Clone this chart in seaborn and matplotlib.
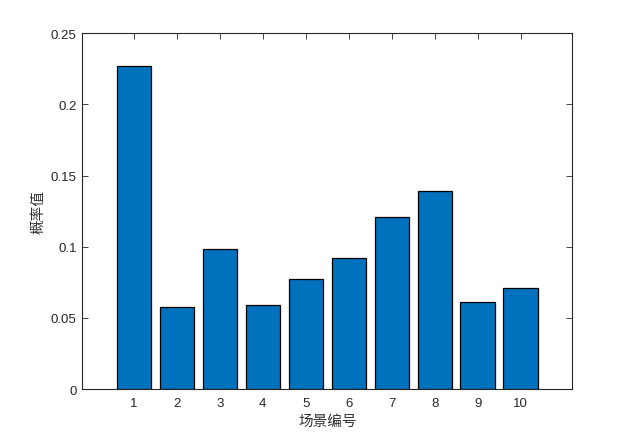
import matplotlib
matplotlib.use("Agg")
import matplotlib.pyplot as plt
import seaborn as sns
import pandas as pd

scenes = [1, 2, 3, 4, 5, 6, 7, 8, 9, 10]
probs = [0.227, 0.0574, 0.0982, 0.0588, 0.0773, 0.0919, 0.1207, 0.1390, 0.0609, 0.0708]
yticks = [0, 0.05, 0.1, 0.15, 0.2, 0.25]
ytick_labels = ["0", "0.05", "0.1", "0.15", "0.2", "0.25"]

sns.set_style("white")
plt.rcParams['font.family'] = ['Liberation Sans', 'Noto Sans CJK SC', 'DejaVu Sans']

df = pd.DataFrame({"scene": scenes, "prob": probs})

fig = plt.figure(figsize=(6.33, 4.39), dpi=100)
ax = fig.add_axes([0.13, 0.1116, 0.774, 0.8104])
sns.barplot(data=df, x="scene", y="prob", native_scale=True, width=0.8,
            color="#0072BD", saturation=1, edgecolor="black", linewidth=0.9, ax=ax)

ax.set_xlim(-0.2, 11.2)
ax.set_ylim(0, 0.25)
ax.set_xticks(scenes)
ax.set_xticklabels([str(s) for s in scenes])
ax.set_yticks(yticks)
ax.set_yticklabels(ytick_labels)
ax.tick_params(direction="in", length=4, width=0.6, colors="#262626",
               labelsize=9.5, top=True, right=True, bottom=True, left=True)
ax.tick_params(axis="x", pad=6)
ax.tick_params(axis="y", pad=4)
for s in ax.spines.values():
    s.set_visible(True)
    s.set_color("#262626")
    s.set_linewidth(0.8)
ax.set_xlabel("场景编号", fontsize=10.5, color="#333333",
              family=['Noto Sans CJK SC', 'DejaVu Sans'], labelpad=3)
ax.set_ylabel("概率值", fontsize=10.5, color="#333333",
              family=['Noto Sans CJK SC', 'DejaVu Sans'], labelpad=4)
ax.grid(False)
fig.savefig("out.png", dpi=100)
